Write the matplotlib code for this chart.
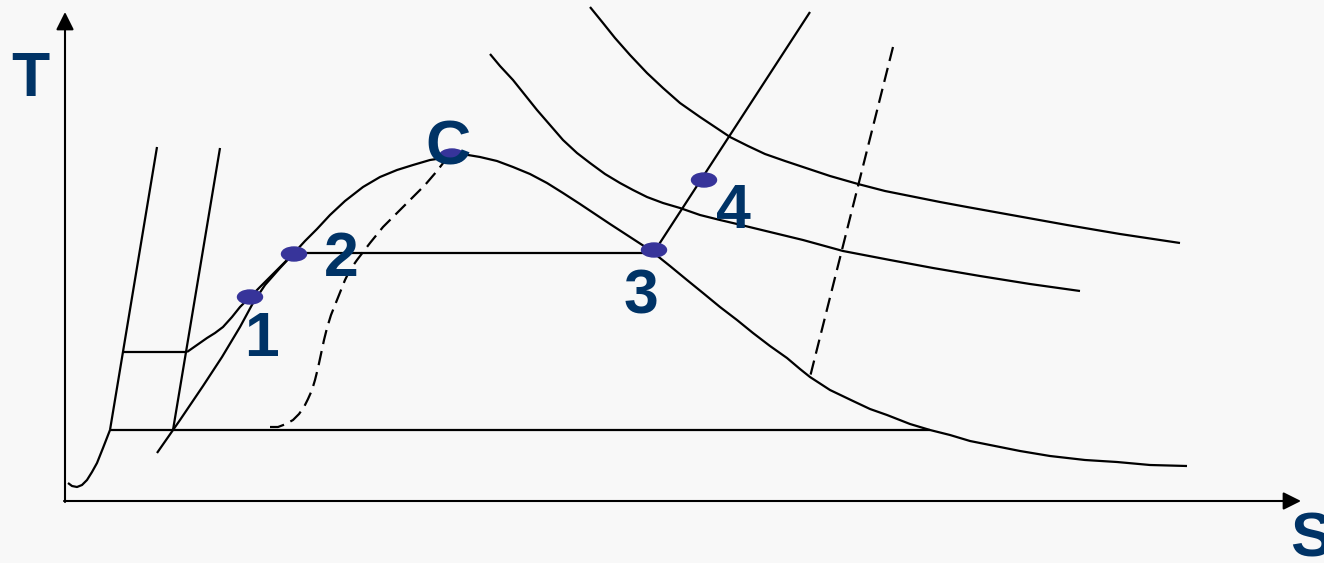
"""T-S diagram sketch (schematic)."""
import matplotlib
matplotlib.use('Agg')
import matplotlib.pyplot as plt
from matplotlib.patches import Ellipse

# ---- data (schematic coordinates, y grows downward) ----
dome_s = [187, 197, 207, 215, 223, 232, 240, 250, 262, 278, 294, 305, 317, 330, 345, 363, 380, 397,
          413, 430, 443, 455, 468, 480, 497, 513, 530, 547, 563, 580, 595, 610, 630, 650, 670, 687,
          703, 720, 737, 753, 770, 787, 800, 810, 830, 853, 870, 887, 910, 930, 950, 970, 995, 1020,
          1050, 1085, 1117, 1150, 1187]
dome_t = [352, 345, 338, 333, 327, 317, 307, 297, 285, 269, 253, 241, 229, 215, 201, 187, 177, 170,
          165, 160, 158, 156, 155, 157, 161, 167, 174, 183, 193, 204, 214, 224, 237, 250, 266, 280,
          293, 307, 320, 333, 346, 358, 369, 377, 390, 401, 409, 415, 424, 430, 435, 441, 446, 451,
          456, 460, 462, 465, 466]

diag_s = [157, 180, 203, 222, 240, 253, 265, 280, 294]
diag_t = [453, 420, 386, 357, 327, 303, 285, 268, 253]

crit_s = [270, 278, 286, 293, 299, 304, 308, 312, 315, 318, 321, 324, 327, 331, 337, 345, 350, 357,
          370, 383, 397, 410, 425, 437, 447]
crit_t = [427, 427, 424, 420, 414, 407, 399, 390, 380, 368, 354, 340, 328, 315, 300, 280, 270, 260,
          243, 227, 213, 200, 185, 171, 158]

isoA_s = [490, 500, 513, 525, 537, 550, 563, 577, 590, 605, 620, 633, 647, 663, 680, 700, 720, 737,
          770, 803, 843, 890, 933, 980, 1030, 1080]
isoA_t = [54, 66, 80, 95, 110, 125, 140, 153, 163, 174, 183, 190, 197, 203, 208, 215, 220, 224,
          232, 240, 251, 260, 268, 276, 284, 291]

isoB_s = [590, 603, 615, 630, 647, 663, 680, 700, 715, 730, 748, 765, 785, 803, 830, 858, 885, 910,
          940, 967, 1017, 1067, 1120, 1180]
isoB_t = [7, 23, 38, 55, 73, 88, 103, 117, 127, 137, 146, 154, 161, 167, 176, 184, 191, 196,
          202, 207, 216, 225, 234, 243]

low_s = [68, 72, 77, 82, 87, 92, 97, 103, 110]
low_t = [483, 486, 487, 485, 480, 472, 463, 448, 430]

straight_lines = [
    ((110, 157), (430, 147)),   # left steep line
    ((220, 173), (148, 430)),   # second steep line
    ((123, 187), (352, 352)),   # short horizontal
    ((110, 930), (430, 430)),   # long horizontal
    ((294, 654), (253, 253)),   # 2 -> 3
    ((654, 810), (252, 12)),    # 3 -> 4 -> up
]
dashed_right = ((893, 810), (47, 377))

point_names = ['1', '2', 'C', '3', '4']
point_s = [250, 294, 452, 654, 704]
point_t = [297, 254, 156, 250, 180]
label_s = [261, 341, 448, 641, 733]
label_t = [340, 260, 148, 297, 212]

BG = '#f8f8f8'
NAVY = '#003366'
DOT = '#37349a'

plt.rcParams['font.family'] = ['Liberation Sans', 'DejaVu Sans']

fig = plt.figure(figsize=(13.24, 5.63), dpi=100, facecolor=BG)
ax = fig.add_axes([0, 0, 1, 1])
ax.set_facecolor(BG)
ax.set_xlim(0, 1324); ax.set_ylim(563, 0); ax.axis('off')

lw = 1.6
kw = dict(color='black', lw=lw, solid_capstyle='butt', solid_joinstyle='round')
ax.plot(dome_s, dome_t, **kw)
ax.plot(diag_s, diag_t, **kw)
ax.plot(isoA_s, isoA_t, **kw)
ax.plot(isoB_s, isoB_t, **kw)
ax.plot(low_s, low_t, **kw)
for xs, ys in straight_lines:
    ax.plot(xs, ys, **kw)
ax.plot(crit_s, crit_t, color='black', lw=lw, dashes=(6.5, 3.2))
ax.plot(*dashed_right, color='black', lw=lw, dashes=(6.5, 3.2))

# axes arrows
arr = dict(arrowstyle='-|>,head_length=0.6,head_width=0.3', mutation_scale=18,
           lw=1.5, color='black', shrinkA=0, shrinkB=0)
ax.annotate('', xy=(65, 12), xytext=(65, 502), arrowprops=arr)
ax.annotate('', xy=(1301, 501), xytext=(64, 501), arrowprops=arr)
ax.text(30, 80, 'T', color=NAVY, fontsize=45, fontweight='bold', ha='center', va='center')
ax.text(1290, 540, 'S', color=NAVY, fontsize=45, fontweight='bold', ha='left', va='center')

for n, s, t, ls, lt in zip(point_names, point_s, point_t, label_s, label_t):
    ax.add_patch(Ellipse((s, t), 25, 14, color=DOT, zorder=3))
    ax.text(ls, lt, n, color=NAVY, fontsize=45, fontweight='bold', ha='center', va='center', zorder=4)

fig.savefig('out.png', dpi=100, facecolor=BG)
plt.close(fig)
